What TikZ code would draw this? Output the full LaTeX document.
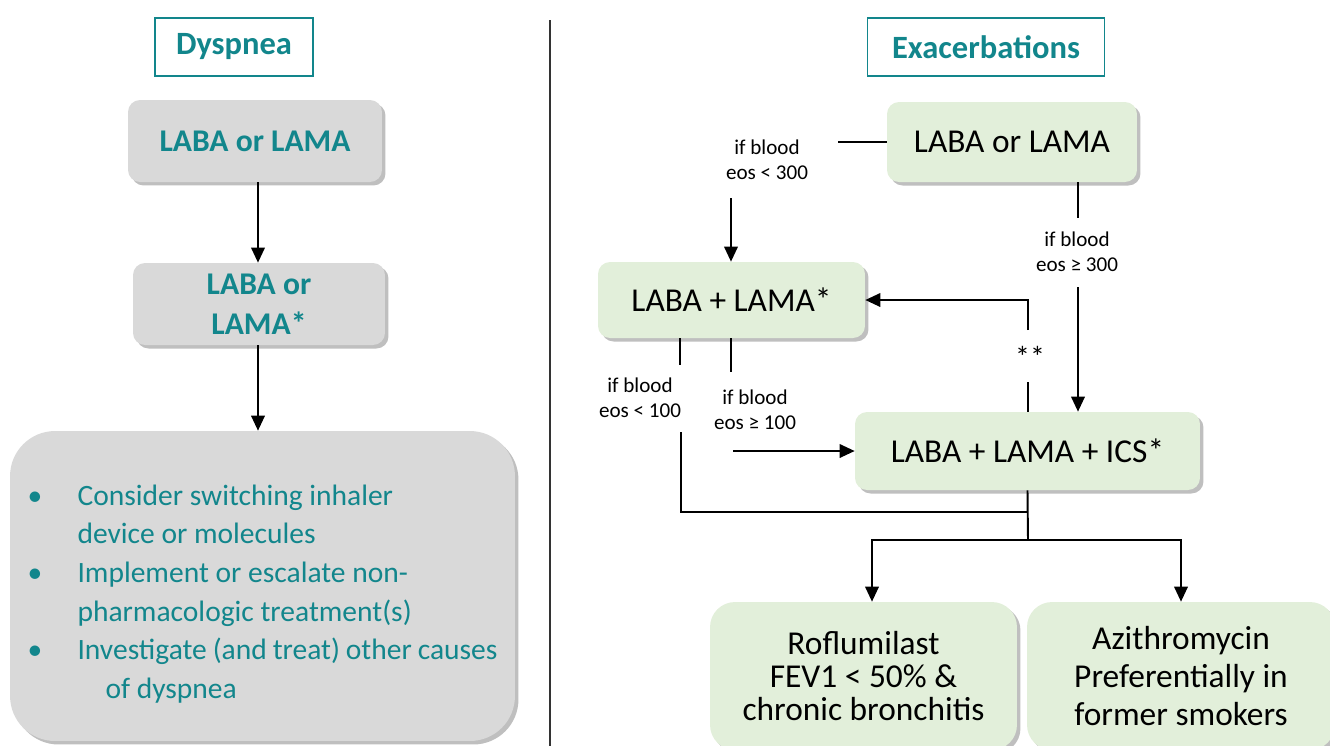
\documentclass[tikz,border=0pt]{standalone}
\usepackage{fontspec}
\setmainfont{Carlito}
\usetikzlibrary{arrows.meta,positioning,shadows}
\definecolor{copdteal}{HTML}{12868C}
\definecolor{copdgray}{HTML}{D9D9D9}
\definecolor{copdgreen}{HTML}{E2EFDA}
\newcommand{\bitem}[1]{\makebox[1.0cm][l]{\textbullet}#1}

\begin{document}
\begin{tikzpicture}[
    x=0.02cm, y=-0.02cm,
    title/.style={rectangle, draw=copdteal, line width=1pt, fill=white, font=\fontsize{18.5}{22}\selectfont\bfseries\color{copdteal}, minimum height=1.16cm},
    graybox/.style={rectangle, rounded corners=0.24cm, fill=copdgray, drop shadow={shadow xshift=0.07cm, shadow yshift=-0.07cm, fill=black, opacity=0.25}, font=\fontsize{18}{23}\selectfont\bfseries\color{copdteal}, align=center, minimum height=1.64cm},
    greenbox/.style={rectangle, rounded corners=0.24cm, fill=copdgreen, drop shadow={shadow xshift=0.07cm, shadow yshift=-0.07cm, fill=black, opacity=0.25}, font=\fontsize{19}{23}\selectfont, align=center},
    cond/.style={font=\fontsize{12}{14.5}\selectfont, align=center, inner sep=1pt},
    arrow/.style={-{Triangle[length=0.3cm,width=0.27cm]}, line width=1.1pt},
    link/.style={line width=1.1pt},
    thinlink/.style={line width=0.6pt}
]
    \clip (0,0) rectangle (1330,745);

    % Divider
    \draw [line width=0.8pt, black!80] (550,20) -- (550,760);

    % Dyspnea column
    \node (dystitle) [title, minimum width=3.16cm] at (234,47) {Dyspnea};
    \node (dyslama) [graybox, minimum width=5.08cm] at (255,141) {LABA or LAMA};
    \node (dysdual) [graybox, minimum width=5.04cm] at (259,304) {LABA or\\LAMA*};
    \node (dysother) [graybox, rounded corners=0.9cm, minimum width=10.1cm, minimum height=6.2cm, font=\fontsize{16.8}{22}\selectfont\color{copdteal}] at (262.5,586) {%
        \parbox{9.4cm}{\raggedright\vspace*{0.32cm}
        \bitem{Consider switching inhaler}\\
        \hspace*{1.0cm}device or molecules\\
        \bitem{Implement or escalate non-}\\
        \hspace*{1.0cm}pharmacologic treatment(s)\\
        \bitem{Investigate (and treat) other causes}\\
        \hspace*{1.56cm}of dyspnea}};

    \draw [arrow] (dyslama.south -| 258,0) -- (dysdual.north -| 258,0);
    \draw [arrow] (dysdual.south -| 258,0) -- (dysother.north -| 258,0);

    % Exacerbations column
    \node (extitle) [title, minimum width=4.74cm] at (986,47) {Exacerbations};
    \node (exlama) [greenbox, minimum width=5.0cm, minimum height=1.6cm] at (1012,142) {LABA or LAMA};
    \node (exdual) [greenbox, minimum width=5.34cm, minimum height=1.52cm] at (731.5,300) {LABA + LAMA*};
    \node (extriple) [greenbox, minimum width=6.9cm, minimum height=1.56cm] at (1027.5,451) {LABA + LAMA + ICS*};
    \node (exroflu) [greenbox, rounded corners=0.5cm, minimum width=6.14cm, minimum height=2.96cm, font=\fontsize{19}{19}\selectfont] at (863.5,676) {Roflumilast\\FEV1 < 50\% \&\\chronic bronchitis};
    \node (exazi) [greenbox, rounded corners=0.5cm, minimum width=6.16cm, minimum height=2.96cm, font=\fontsize{19}{21.5}\selectfont] at (1181,676) {Azithromycin\\Preferentially in\\former smokers};

    % Conditions
    \node (eoslo300) [cond] at (767,160) {if blood\\eos < 300};
    \node (eoshi300) [cond] at (1077,252) {if blood\\eos ≥ 300};
    \node (eoslo100) [cond] at (640,398) {if blood\\eos < 100};
    \node (eoshi100) [cond] at (755,410) {if blood\\eos ≥ 100};
    \node (stepback) [cond, font=\fontsize{17}{17}\selectfont] at (1030,357) {**};

    \coordinate (a1) at (838,142);
    \coordinate (a2) at (731,198);
    \coordinate (b1) at (1078,218);
    \coordinate (b2) at (1078,287);
    \coordinate (c1) at (1028,330);
    \coordinate (c2) at (1028,382);
    \coordinate (d1) at (680,365);
    \coordinate (d2) at (681,432);
    \coordinate (f1) at (731,372);
    \coordinate (f2) at (733,451);
    \coordinate (g1) at (1028,540);
    \coordinate (g2) at (872,540);
    \coordinate (e1) at (1028,512);

    % Connectors
    \draw [link] (a1) -- (exlama.west);
    \draw [arrow] (a2) -- (a2|-exdual.north);
    \draw [link] (b1|-exlama.south) -- (b1);
    \draw [arrow] (b2) -- (b2|-extriple.north);
    \draw [arrow] (c1) |- (exdual.east);
    \draw [link] (c2) -- (c2|-extriple.north);
    \draw [thinlink] (d1|-exdual.south) -- (d1);
    \draw [thinlink] (d2) |- (e1);
    \draw [link] (f1|-exdual.south) -- (f1);
    \draw [arrow] (f2) -- (extriple.west);
    \draw [link] (extriple.south) -- (g1);
    \draw [arrow] (g1) -- (g2) -- (g2|-exroflu.north);
    \draw [arrow] (g1) -| (exazi.north);
\end{tikzpicture}
\end{document}
